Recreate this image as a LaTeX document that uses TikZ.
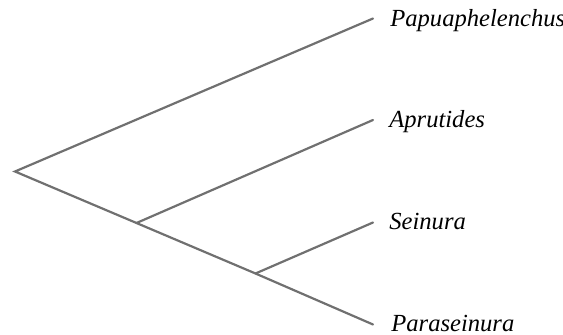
\documentclass[tikz,border=0pt]{standalone}
\usepackage{fontspec}
\setmainfont{Liberation Serif}
\definecolor{branchgray}{RGB}{112,112,112}
\tikzset{
  branch/.style={line width=1.25pt, branchgray, line cap=round},
  taxon/.style={anchor=base west, inner sep=0pt, font=\itshape\fontsize{14}{16}\selectfont}
}
\begin{document}
\begin{tikzpicture}
                \useasboundingbox (0,0) rectangle (11.26,6.7);
                % Inner nodes of the tree
                \coordinate (root) at (0.30, 3.27);
                \coordinate (apfork) at (2.73, 2.24);
                \coordinate (sefork) at (5.11, 1.23);
                
                % Tips of the branches
                \coordinate (papua) at (7.46, 6.33);
                \coordinate (aprut) at (7.46, 4.30);
                \coordinate (sein) at (7.46, 2.25);
                \coordinate (paras) at (7.46, 0.21);
                
                % Branches
                \draw[branch] (papua) -- (root) -- (apfork) -- (sefork) -- (paras);
                \draw[branch] (apfork) -- (aprut);
                \draw[branch] (sefork) -- (sein);
                
                % Names of the genera
                \node[taxon] (papuaL) at ([shift={(0.34,-0.16)}]papua) {Papuaphelenchus};
                \node[taxon] (aprutL) at ([shift={(0.32,-0.15)}]aprut) {Aprutides};
                \node[taxon] (seinL) at ([shift={(0.32,-0.15)}]sein) {Seinura};
                \node[taxon] (parasL) at ([shift={(0.36,-0.15)}]paras) {Paraseinura};
            \end{tikzpicture}
\end{document}
